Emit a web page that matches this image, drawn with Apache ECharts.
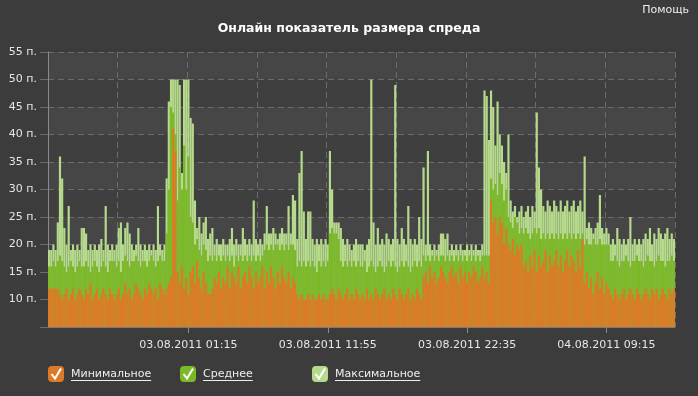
<!DOCTYPE html>
<html>
<head>
<meta charset="utf-8">
<script src="https://cdn.jsdelivr.net/npm/echarts@6/dist/echarts.min.js"></script>
<style>
html,body{margin:0;padding:0;background:#3c3c3c;}
#chart{width:698px;height:396px;}
</style>
</head>
<body>
<div id="chart"></div>
<script>
// ---- data (10-minute buckets from 02.08.2011 14:35) ----
const START_UTC = Date.UTC(2011, 7, 2, 14, 35);
const STEP_MIN = 10;
const SERIES_NAMES = ['Минимальное', 'Среднее', 'Максимальное'];
const X_TICK_LABELS = ['03.08.2011 01:15', '03.08.2011 11:55', '03.08.2011 22:35', '04.08.2011 09:15'];
const Y_UNIT = ' п.';

const MIN_SPREAD = [
12,12,12,12,12,11,10,11,12,10,11,12,10,11,12,11,
10,12,11,13,10,11,12,10,11,12,11,10,12,11,10,11,
12,10,11,13,11,12,10,11,13,12,11,10,12,11,13,12,
11,12,10,13,12,11,12,13,14,41,37,15,13,16,12,14,
11,15,16,13,17,14,12,15,13,11,11,12,14,13,15,12,
14,13,16,12,15,14,13,16,12,14,15,13,16,14,12,15,
13,14,16,12,15,13,16,14,12,15,13,16,14,13,15,12,
14,13,11,10,11,10,10,11,10,11,10,10,11,10,11,10,
10,11,12,11,10,12,11,10,11,12,10,11,10,12,11,10,
11,10,12,10,11,10,12,11,10,11,12,10,11,10,12,11,
10,12,11,10,11,12,10,11,10,12,11,10,14,15,13,16,
14,15,13,14,16,15,14,13,15,16,14,15,13,16,14,15,
13,15,14,16,15,13,14,16,14,15,13,28,24,25,22,25,
24,20,23,20,19,21,18,20,19,20,16,17,15,18,16,19,
15,18,16,17,19,15,18,16,17,19,16,18,15,17,19,16,
18,17,15,19,16,21,13,15,12,14,11,13,15,12,14,11,
13,12,11,10,12,11,10,11,12,10,11,12,11,10,12,11,
10,11,12,11,10,12,11,12,10,11,12,11,10,12,11,12
];

const AVG_SPREAD = [
16,16,17,16,17,18,17,16,15,16,17,16,15,16,17,16,
16,17,16,15,16,17,16,15,16,17,16,15,17,17,17,16,
17,15,17,18,17,16,17,17,18,17,16,17,17,16,17,18,
17,16,17,18,17,17,22,30,45,44,40,28,34,30,38,30,
36,25,24,20,21,19,18,20,19,17,18,17,18,17,18,17,
18,17,18,17,18,16,18,17,18,17,18,17,18,17,18,17,
18,17,18,19,20,19,20,19,20,20,19,20,19,20,19,20,
20,19,16,17,16,17,16,17,16,17,16,15,17,16,17,16,
17,22,23,22,22,21,17,16,17,16,17,16,17,16,17,16,
16,17,15,16,17,16,15,16,17,16,15,16,17,16,17,16,
15,16,17,16,17,16,15,16,17,16,17,16,18,17,18,17,
18,17,18,17,18,18,17,18,17,18,17,18,17,18,17,18,
17,18,17,18,17,18,17,18,18,18,18,32,30,31,29,33,
31,28,30,25,24,23,25,24,22,23,22,23,22,21,22,23,
22,23,21,22,21,22,21,22,21,22,21,22,21,22,21,22,
21,22,21,22,21,22,20,21,20,20,21,20,20,21,20,20,
20,20,17,17,18,17,16,17,17,18,17,16,17,17,18,17,
17,16,17,18,17,17,16,17,18,17,17,16,17,17,18,17
];

const MAX_SPREAD = [
19,19,20,19,24,36,32,23,20,27,19,20,19,20,19,23,
23,22,19,20,19,20,19,20,21,19,27,20,19,20,19,20,
23,24,20,23,24,22,20,19,20,23,20,19,20,19,20,19,
20,19,27,20,19,20,32,46,50,50,50,50,49,33,50,50,
50,43,42,28,23,25,22,24,25,21,22,23,20,21,20,20,
21,20,20,21,23,20,21,20,20,23,21,20,21,20,28,21,
20,21,20,22,27,22,22,23,22,21,22,23,22,22,27,22,
29,28,21,33,37,26,21,26,26,21,20,21,20,21,20,21,
20,37,30,24,24,24,23,21,20,21,20,19,20,21,20,20,
20,19,20,21,50,24,20,23,20,21,20,22,21,20,21,49,
21,20,23,21,20,27,21,20,21,20,25,21,34,20,37,20,
19,20,19,20,22,22,21,22,19,20,19,20,19,20,19,19,
20,19,20,19,20,19,19,20,48,47,39,48,45,38,46,40,
38,35,33,40,28,26,27,25,26,27,25,26,27,25,27,26,
44,34,30,27,26,28,27,26,28,27,26,28,26,27,28,26,
27,28,26,27,28,26,36,23,24,23,22,23,24,29,23,22,
23,22,20,21,20,23,21,20,21,20,21,25,20,21,20,21,
20,21,22,21,23,20,22,21,23,22,21,22,23,21,22,21
];

const SERIES_COLORS = ['#dc7b27', '#7cb928', '#b6da8c'];

// ---- categories ----
function pad(n) { return (n < 10 ? '0' : '') + n; }
const CATEGORIES = MIN_SPREAD.map(function (_, i) {
  const d = new Date(START_UTC + i * STEP_MIN * 60000);
  return pad(d.getUTCDate()) + '.' + pad(d.getUTCMonth() + 1) + '.' + d.getUTCFullYear() + ' ' +
         pad(d.getUTCHours()) + ':' + pad(d.getUTCMinutes());
});

const FONT = '"DejaVu Sans", Verdana, sans-serif';
const GRID_LEFT = 48, GRID_TOP = 52, GRID_RIGHT = 23, GRID_BOTTOM = 69;
const LEGEND_LEFTS = [48, 180, 312];
const LEGEND_TOP = 366;

function textWidth(t, size) {
  const c = document.createElement('canvas').getContext('2d');
  c.font = size + 'px ' + FONT;
  return c.measureText(t).width;
}

const chart = echarts.init(document.getElementById('chart'), null, { renderer: 'canvas' });

const legends = SERIES_NAMES.map(function (name, k) {
  return {
    data: [name],
    left: LEGEND_LEFTS[k],
    top: LEGEND_TOP,
    padding: 0,
    itemWidth: 16,
    itemHeight: 16,
    itemGap: 0,
    icon: 'roundRect',
    textStyle: { color: '#eeeeee', fontSize: 11, fontFamily: FONT, padding: [0, 0, 0, 2] },
    inactiveColor: '#777'
  };
});

const graphics = [{
  type: 'text', right: 9, top: 5,
  style: { text: 'Помощь', fill: '#eeeeee', font: '11px ' + FONT }
}];
SERIES_NAMES.forEach(function (name, k) {
  const x0 = LEGEND_LEFTS[k];
  graphics.push({
    type: 'polyline', silent: true, z: 100,
    shape: { points: [[x0 + 3.5, LEGEND_TOP + 8], [x0 + 7, LEGEND_TOP + 12.5], [x0 + 13, LEGEND_TOP + 2.5]] },
    style: { stroke: '#ffffff', lineWidth: 2, fill: null }
  });
  const tx = x0 + 16 + 5 + 2;
  graphics.push({
    type: 'line', silent: true, z: 100,
    shape: { x1: tx, y1: LEGEND_TOP + 14.5, x2: tx + textWidth(name, 11), y2: LEGEND_TOP + 14.5 },
    style: { stroke: '#eeeeee', lineWidth: 1 }
  });
});

function isLabelIdx(idx) { return idx > 0 && idx % 64 === 0; }

const seriesData = [MAX_SPREAD, AVG_SPREAD, MIN_SPREAD];
const seriesNames = [SERIES_NAMES[2], SERIES_NAMES[1], SERIES_NAMES[0]];
const seriesColors = [SERIES_COLORS[2], SERIES_COLORS[1], SERIES_COLORS[0]];

chart.setOption({
  backgroundColor: '#3c3c3c',
  animation: false,
  textStyle: { fontFamily: FONT },
  title: {
    text: 'Онлайн показатель размера спреда',
    left: 'center', top: 17,
    textStyle: { color: '#ffffff', fontSize: 12.5, fontWeight: 'bold', fontFamily: FONT }
  },
  legend: legends,
  graphic: graphics,
  grid: { left: GRID_LEFT, top: GRID_TOP, right: GRID_RIGHT, bottom: GRID_BOTTOM, containLabel: false },
  xAxis: {
    type: 'category',
    data: CATEGORIES,
    boundaryGap: true,
    axisLine: { show: true, lineStyle: { color: '#7a7a7a', width: 1 } },
    axisTick: { show: true, interval: function (idx) { return isLabelIdx(idx); }, alignWithLabel: true, length: 6, lineStyle: { color: '#8a8a8a' } },
    axisLabel: {
      interval: function (idx) { return isLabelIdx(idx); },
      margin: 13,
      color: '#e6e6e6', fontSize: 11, fontFamily: FONT
    },
    splitLine: {
      show: true,
      interval: function (idx) { return idx > 0 && idx % 32 === 0; },
      lineStyle: { color: '#6c6c6c', type: [6, 4], width: 1 }
    }
  },
  yAxis: {
    type: 'value',
    min: 5, max: 55, interval: 5,
    axisLine: { show: true, lineStyle: { color: '#8a8a8a', width: 1 } },
    axisTick: { show: true, length: 8, lineStyle: { color: '#6c6c6c' } },
    axisLabel: {
      margin: 11, color: '#e6e6e6', fontSize: 11, fontFamily: FONT,
      formatter: function (v) { return v === 5 ? '' : v + Y_UNIT; }
    },
    splitLine: { show: true, lineStyle: { color: '#6c6c6c', type: [6, 4], width: 1 } },
    splitArea: { show: true, areaStyle: { color: ['#3f3f3f', '#464646'] } }
  },
  series: seriesData.map(function (d, k) {
    return {
      name: seriesNames[k],
      type: 'bar',
      data: d,
      barGap: '-100%',
      barCategoryGap: '0%',
      clip: true,
      itemStyle: { color: seriesColors[k] },
      emphasis: { disabled: true }
    };
  })
});
</script>
</body>
</html>
